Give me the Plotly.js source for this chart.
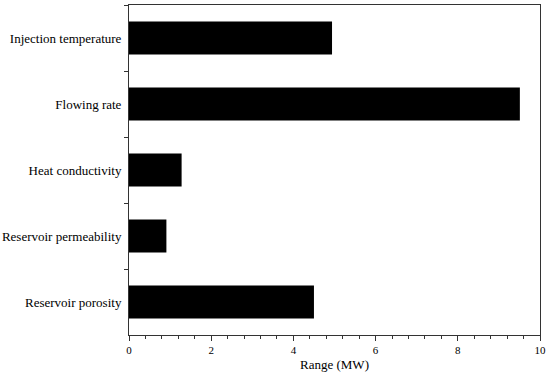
<!DOCTYPE html>
<html>
<head>
<meta charset="utf-8">
<script src="https://cdn.plot.ly/plotly-3.0.1.min.js"></script>
<style>html,body{margin:0;padding:0;background:#fff;}#chart{width:550px;height:373px;}</style>
</head>
<body>
<div id="chart"></div>
<script>
const categories = ["Injection temperature", "Flowing rate", "Heat conductivity", "Reservoir permeability", "Reservoir porosity"];
const rangeMW = [4.94, 9.51, 1.28, 0.91, 4.50];
const xTickValues = [0, 2, 4, 6, 8, 10];
const xTitle = "Range (MW)";

const fontFamily = "Liberation Serif, serif";

const layout = {
  width: 550,
  height: 373,
  margin: {l: 129, r: 10, t: 5, b: 38, pad: 0},
  paper_bgcolor: "#ffffff",
  plot_bgcolor: "#ffffff",
  showlegend: false,
  font: {family: fontFamily, color: "#000000", size: 12},
  xaxis: {
    range: [0, 10],
    tickvals: xTickValues,
    ticktext: xTickValues.map(String),
    ticks: "outside",
    ticklen: 5,
    tickwidth: 1,
    tickcolor: "#333333",
    minor: {dtick: 0.4, tick0: 0, ticks: "outside", ticklen: 3, tickcolor: "#333333", showgrid: false},
    showline: true,
    linecolor: "#333333",
    linewidth: 1,
    mirror: true,
    showgrid: false,
    zeroline: false,
    tickfont: {family: fontFamily, size: 11, color: "#000000"},
    title: {text: xTitle, font: {family: fontFamily, size: 13, color: "#000000"}, standoff: 4}
  },
  yaxis: {
    type: "category",
    autorange: "reversed",
    tickson: "boundaries",
    ticks: "outside",
    ticklen: 4,
    tickwidth: 1,
    tickcolor: "#333333",
    showline: true,
    linecolor: "#333333",
    linewidth: 1,
    mirror: true,
    showgrid: false,
    zeroline: false,
    ticklabelstandoff: 4,
    tickfont: {family: fontFamily, size: 13, color: "#000000"}
  }
};

Plotly.newPlot("chart", [{
  type: "bar",
  orientation: "h",
  x: rangeMW,
  y: categories,
  width: 0.5,
  marker: {color: "#000000", line: {width: 0}},
  hoverinfo: "none"
}], layout, {staticPlot: true, displayModeBar: false});
</script>
</body>
</html>
